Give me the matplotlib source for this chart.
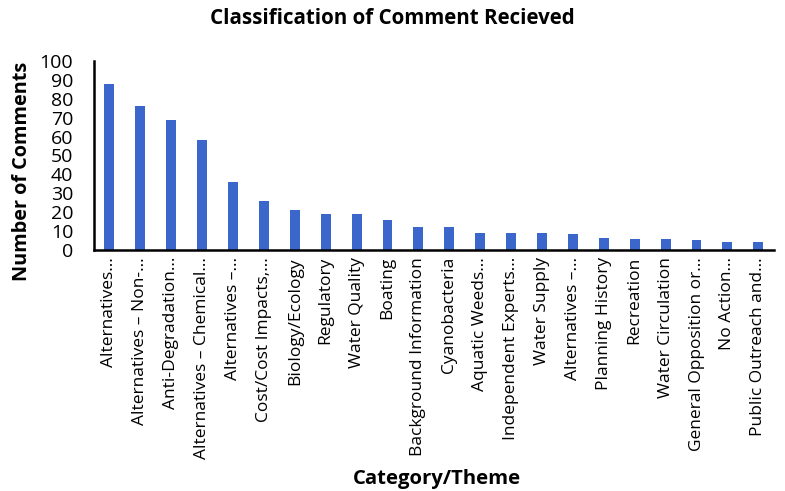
import matplotlib
matplotlib.use("Agg")
import matplotlib.pyplot as plt

categories = [
    "Alternatives…", "Alternatives – Non-…", "Anti-Degradation…",
    "Alternatives – Chemical…", "Alternatives –…", "Cost/Cost Impacts,…",
    "Biology/Ecology", "Regulatory", "Water Quality", "Boating",
    "Background Information", "Cyanobacteria", "Aquatic Weeds…",
    "Independent Experts…", "Water Supply", "Alternatives –…",
    "Planning History", "Recreation", "Water Circulation",
    "General Opposition or…", "No Action…", "Public Outreach and…",
]
counts = [88, 76, 69, 58, 36, 26, 21, 19, 19, 16, 12, 12, 9, 9, 9, 8.5,
          6.5, 6, 6, 5.5, 4.5, 4.5]
yticks = list(range(0, 101, 10))

plt.rcParams['font.family'] = ['Open Sans', 'DejaVu Sans']

fig = plt.figure(figsize=(7.85, 4.91), dpi=100)
ax = fig.add_axes([0.1197, 0.4908, 0.866, 0.385])
x = list(range(len(categories)))
ax.bar(x, counts, width=0.32, color="#3B66CC", zorder=2)
ax.set_xlim(-0.5, len(categories) - 0.5)
ax.set_ylim(0, 100)
ax.set_yticks(yticks)
ax.set_yticklabels([str(t) for t in yticks], fontsize=14)
ax.set_xticks(x)
ax.set_xticklabels(categories, rotation=90, fontsize=12.5, ha='center', va='top')
ax.tick_params(axis='both', length=0)
ax.tick_params(axis='y', pad=15)
ax.tick_params(axis='x', pad=5)
for s in ['top', 'right']:
    ax.spines[s].set_visible(False)
ax.spines['left'].set_linewidth(1.8)
ax.spines['bottom'].set_linewidth(1.8)

fig.text(0.5, 0.963, "Classification of Comment Recieved", ha='center', va='center',
         fontsize=14.8, fontweight='bold')
fig.text(0.028, 0.65, "Number of Comments", rotation=90, ha='center', va='center',
         fontsize=14.3, fontweight='bold')
fig.text(0.557, 0.025, "Category/Theme", ha='center', va='center',
         fontsize=14.6, fontweight='bold')

fig.savefig("out.png", dpi=100)
